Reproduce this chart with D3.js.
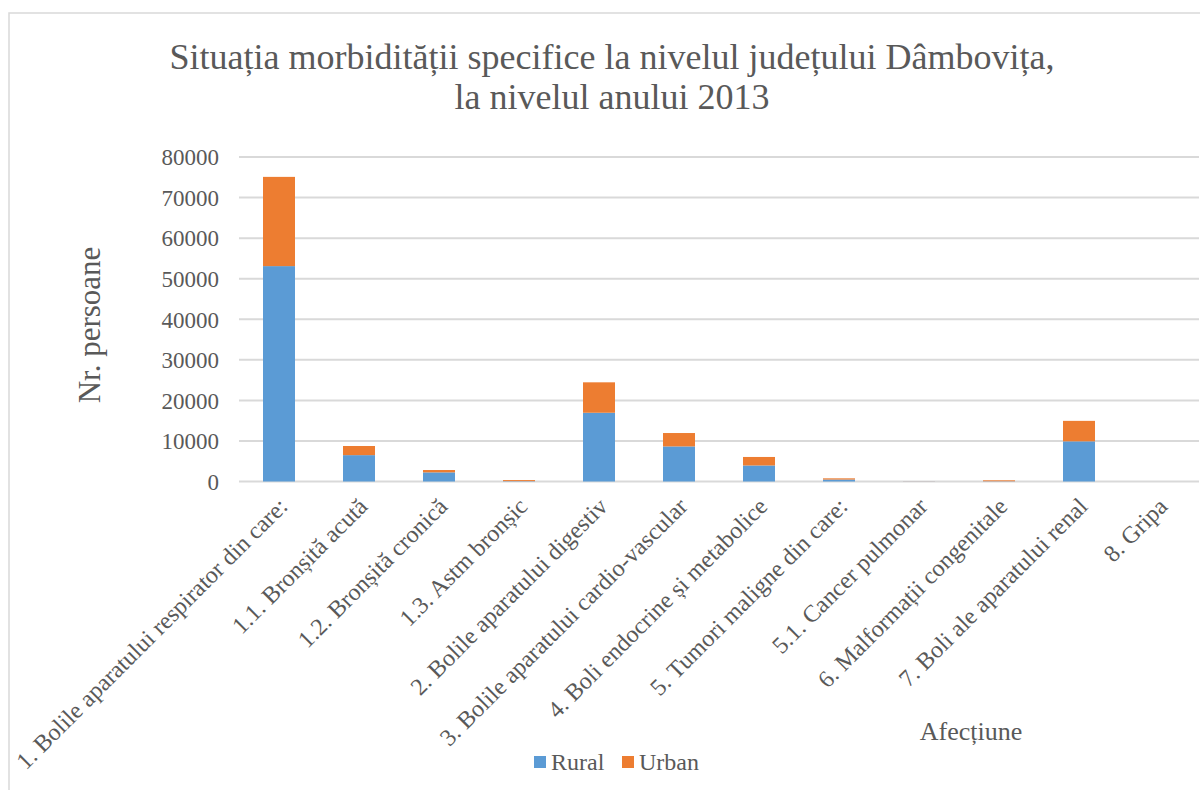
<!DOCTYPE html>
<html><head><meta charset="utf-8">
<script src="https://cdn.jsdelivr.net/npm/d3@7"></script>
<style>body{margin:0;background:#fff}svg{display:block}svg text{font-family:"Liberation Serif","Times New Roman",serif !important;fill:#595959}</style>
</head><body><svg id="c" width="1200" height="790" font-family="Liberation Serif"></svg>
<script>
const categories = ["1. Bolile aparatului respirator din care:","1.1. Bronșită acută","1.2. Bronșită cronică","1.3. Astm bronșic","2. Bolile aparatului digestiv","3. Bolile aparatului cardio-vascular","4. Boli endocrine și metabolice","5. Tumori maligne din care:","5.1. Cancer pulmonar","6. Malformații congenitale","7. Boli ale aparatului renal","8. Gripa"];
const rural = [53100, 6500, 2250, 90, 16950, 8650, 3950, 480, 30, 60, 9900, 0];
const urban = [22000, 2250, 580, 260, 7500, 3300, 2100, 300, 20, 230, 5050, 0];
const seriesNames = ["Rural","Urban"];
const colors = ["#5B9BD5","#ED7D31"];
const yTicks = [0,10000,20000,30000,40000,50000,60000,70000,80000];

const svg = d3.select("#c");
svg.append("rect").attr("x",9).attr("y",13).attr("width",1230).attr("height",800).attr("fill","none").attr("stroke","#D9D9D9").attr("stroke-width",1.5);

const x = d3.scaleBand().domain(categories).range([239,1199]).paddingInner(0.6).paddingOuter(0.3);
const y = d3.scaleLinear().domain([0,80000]).range([481.5,157]);

// gridlines
svg.append("g").selectAll("line").data(yTicks).join("line")
  .attr("x1",239).attr("x2",1199).attr("y1",d=>y(d)).attr("y2",d=>y(d))
  .attr("stroke","#D9D9D9").attr("stroke-width",2);

// y axis labels
const yAxis = d3.axisLeft(y).tickValues(yTicks).tickFormat(d3.format("d")).tickSize(0).tickPadding(0);
const ya = svg.append("g").attr("transform","translate(219,0)").call(yAxis);
ya.attr("font-family",null).attr("font-size",null);
ya.select(".domain").remove();
ya.selectAll("text").style("font-size","23px").attr("fill","#595959").attr("dy","0.34em");

// stacked bars
const rows = categories.map((c,i)=>({cat:c, Rural:rural[i], Urban:urban[i]}));
const stack = d3.stack().keys(seriesNames)(rows);
svg.append("g").selectAll("g").data(stack).join("g").attr("fill",(d,i)=>colors[i])
  .selectAll("rect").data(d=>d).join("rect")
  .attr("x",d=>x(d.data.cat)).attr("width",x.bandwidth())
  .attr("y",d=>y(d[1])).attr("height",d=>Math.max(0,y(d[0])-y(d[1])));

// category labels
svg.append("g").selectAll("text").data(categories).join("text")
  .attr("transform",d=>`translate(${x(d)+x.bandwidth()/2-2},${496}) rotate(-45)`)
  .attr("text-anchor","end").attr("dy","0.7em")
  .style("font-size","24px").text(d=>d);

// titles
const t = svg.append("text").attr("text-anchor","middle").style("font-size","36px");
t.append("tspan").attr("x",612).attr("y",69).text("Situația morbidității specifice la nivelul județului Dâmbovița,");
t.append("tspan").attr("x",612).attr("y",109).text("la nivelul anului 2013");

svg.append("text").attr("transform","translate(100,325) rotate(-90)").attr("text-anchor","middle").style("font-size","31px").text("Nr. persoane");
svg.append("text").attr("x",971).attr("y",740).attr("text-anchor","middle").style("font-size","26px").text("Afecțiune");

// legend
const lg = svg.append("g");
const lx = [534,622];
seriesNames.forEach((n,i)=>{
  lg.append("rect").attr("x",lx[i]).attr("y",756).attr("width",12).attr("height",12).attr("fill",colors[i]);
  lg.append("text").attr("x",lx[i]+17).attr("y",770).style("font-size","24px").text(n);
});
</script></body></html>
